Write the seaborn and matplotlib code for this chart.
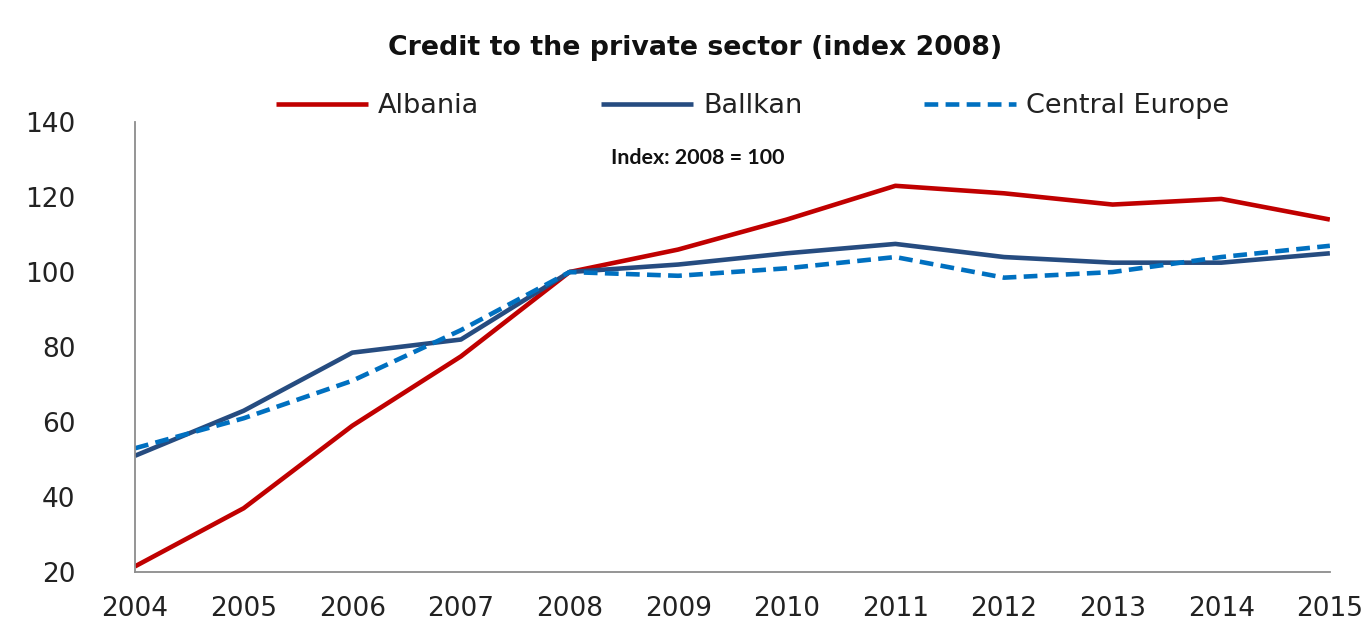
import matplotlib
matplotlib.use("Agg")
import matplotlib.pyplot as plt
import seaborn as sns
import pandas as pd

# Credit to the private sector, index 2008 = 100
years = [2004, 2005, 2006, 2007, 2008, 2009, 2010, 2011, 2012, 2013, 2014, 2015]
albania = [21.5, 37, 59, 77.5, 100, 106, 114, 123, 121, 118, 119.5, 114]
ballkan = [51, 63, 78.5, 82, 100, 102, 105, 107.5, 104, 102.5, 102.5, 105]
central_europe = [53, 61, 71, 84.5, 100, 99, 101, 104, 98.5, 100, 104, 107]

series_names = ["Albania", "Ballkan", "Central Europe"]
series_values = [albania, ballkan, central_europe]
colors = ["#C00000", "#264C80", "#0070C0"]
dashes = [None, None, (3, 1.6)]

df = pd.concat(
    [pd.DataFrame({"year": years, "value": v, "series": n})
     for n, v in zip(series_names, series_values)],
    ignore_index=True,
)

sns.set_theme(style="white")
plt.rcParams["font.family"] = ["DejaVu Sans"]

fig = plt.figure(figsize=(13.71, 6.26), dpi=100)
ax = fig.add_axes([0.0985, 0.0863, 0.8715, 0.7187])

for name, col, dsh in zip(series_names, colors, dashes):
    sub = df[df["series"] == name]
    sns.lineplot(data=sub, x="year", y="value", ax=ax, color=col,
                 linewidth=3.3, label=name, legend=False)
    line = ax.lines[-1]
    if dsh is not None:
        line.set_dashes(dsh)
    line.set_solid_capstyle("butt")
    line.set_solid_joinstyle("round")

ax.set_xlim(2004, 2015)
ax.set_ylim(20, 140)
ax.set_xticks(years)
ax.set_yticks(range(20, 141, 20))
ax.set_xlabel("")
ax.set_ylabel("")
ax.tick_params(axis="both", labelsize=19, colors="#222222", length=0)
ax.tick_params(axis="x", pad=17)
ax.tick_params(axis="y", pad=43)

for side in ["top", "right"]:
    ax.spines[side].set_visible(False)
for side in ["left", "bottom"]:
    ax.spines[side].set_color("#8C8C8C")
    ax.spines[side].set_linewidth(1.3)

fig.suptitle("Credit to the private sector (index 2008)", x=0.507, y=0.944,
             fontsize=19.3, fontweight="bold", color="#111111")

handles, labels = ax.get_legend_handles_labels()
leg = fig.legend(handles, labels, loc="center", bbox_to_anchor=(0.549, 0.830),
                 ncol=3, frameon=False, fontsize=19.5, handlelength=3.4,
                 columnspacing=4.5, handletextpad=0.37)
for t in leg.get_texts():
    t.set_color("#222222")

ax.text(0.471, 0.92, "Index: 2008 = 100", transform=ax.transAxes,
        ha="center", va="center", fontsize=15.4, fontweight="bold",
        family=["Lato", "DejaVu Sans"], color="#111111")

fig.savefig("out.png", dpi=100, facecolor="white")
